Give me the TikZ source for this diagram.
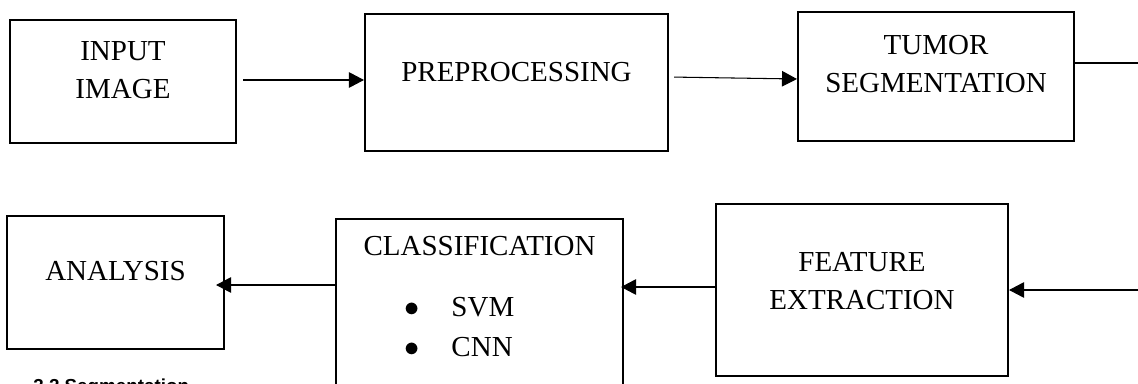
\documentclass[tikz,border=0pt]{standalone}
\usepackage{fontspec}
\setmainfont{Liberation Serif}
\newfontfamily\headfont{Liberation Sans}
\usetikzlibrary{positioning, arrows.meta}

\begin{document}
\begin{tikzpicture}[
    x=0.02cm, y=0.02cm,
    blockbox/.style={rectangle, draw=black, line width=1.2pt, inner sep=0pt},
    blocktext/.style={inner sep=0pt, align=center,
                      font=\fontsize{16.5}{21.5}\selectfont},
    arrow/.style={-{Triangle[length=0.3cm, width=0.31cm]}, line width=0.6pt},
  ]
    \useasboundingbox (0,0) rectangle (1138,383);
    \clip (0,0) rectangle (1138,383);

    % upper row
    \node[blockbox, minimum width=4.52cm, minimum height=2.46cm] (INP) at (123,301.5) {};
    \node[blockbox, minimum width=6.06cm, minimum height=2.74cm] (PRE) at (516.5,300.5) {};
    \node[blockbox, minimum width=5.52cm, minimum height=2.58cm] (TUM) at (936,306.5) {};

    \node[blocktext, below=0.44cm of INP.north] (INPtxt) {INPUT\\IMAGE};
    \node[blocktext, below=0.98cm of PRE.north] (PREtxt) {PREPROCESSING};
    \node[blocktext, below=0.48cm of TUM.north] (TUMtxt) {TUMOR\\SEGMENTATION};

    % lower row
    \node[blockbox, minimum width=4.34cm, minimum height=2.66cm] (ANA) at (115.5,100.5) {};
    \node[blockbox, minimum width=5.74cm, minimum height=3.68cm] (CLS) at (479.5,72) {};
    \node[blockbox, minimum width=5.84cm, minimum height=3.44cm] (FEA) at (862,93) {};

    \node[blocktext, below=0.92cm of ANA.north] (ANAtxt) {ANALYSIS};
    \node[blocktext, below=0.36cm of CLS.north] (CLStxt) {CLASSIFICATION};
    \node[blocktext, align=left, font=\fontsize{16.5}{22.5}\selectfont,
          below right=1.58cm and 1.38cm of CLS.north west] (CLSlist)
         {$\bullet$\hspace{0.64cm}SVM\\$\bullet$\hspace{0.64cm}CNN};
    \node[blocktext, below=0.98cm of FEA.north] (FEAtxt) {FEATURE\\EXTRACTION};

    \node[inner sep=0pt, anchor=north west,
          font=\headfont\bfseries\fontsize{10.7}{12}\selectfont] (SEC) at (33,4)
         {3.2 Segmentation};

    % connectors
    \coordinate (edgeTop) at (1140,320);
    \coordinate (edgeBot) at (1140,93);

    \draw[arrow, shorten <=0.12cm] (INP.east |- 0,303) -- (PRE.west |- 0,303);
    \draw[arrow, shorten <=0.1cm] (PRE.east |- 0,306) -- (TUM.west |- 0,304);
    \draw[line width=0.6pt] (TUM.east |- edgeTop) -- (edgeTop);
    \draw[arrow] (edgeBot) -- (FEA.east |- edgeBot);
    \draw[arrow, shorten >=-0.06cm] (FEA.west |- 0,96) -- (CLS.east |- 0,96);
    \draw[arrow, shorten >=-0.18cm] (CLS.west |- 0,98) -- (ANA.east |- 0,98);
  \end{tikzpicture}
\end{document}
